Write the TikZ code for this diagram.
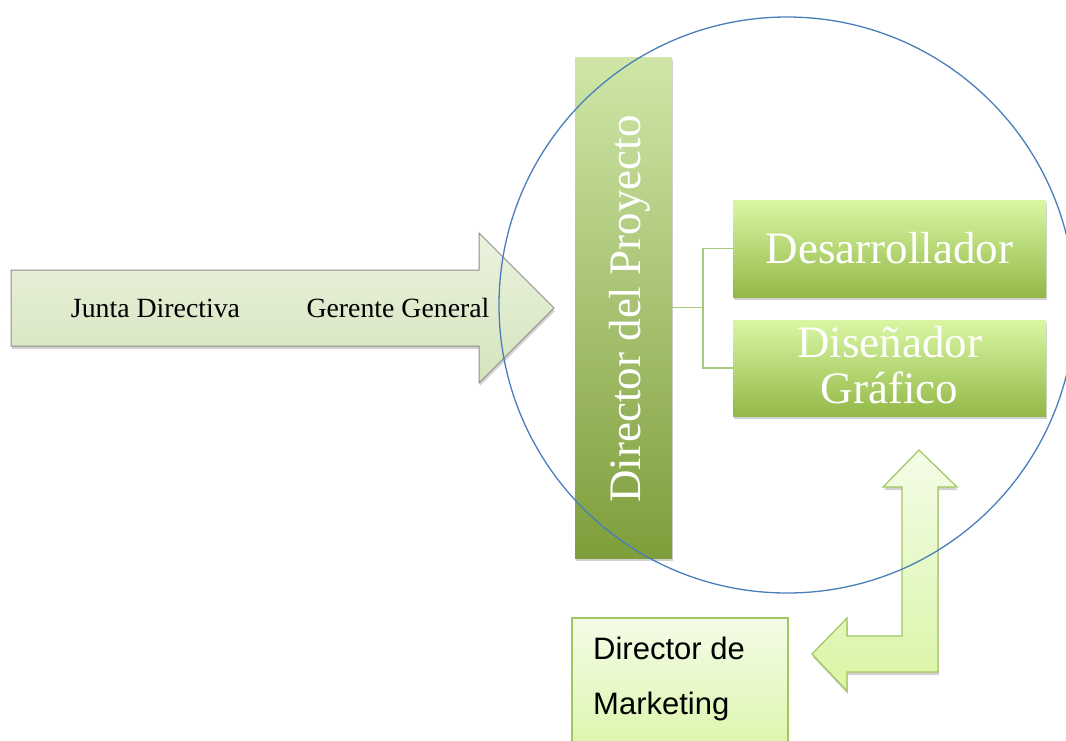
\documentclass[tikz,border=0pt]{standalone}
\usepackage{fontspec}
\setmainfont{Liberation Serif}
\newfontfamily\mysans{Liberation Sans}
\usetikzlibrary{shadows}
\definecolor{arrowtop}{HTML}{EAF2DE}
\definecolor{arrowbot}{HTML}{D5E4BD}
\definecolor{arrowline}{HTML}{8E8E8E}
\definecolor{bartop}{HTML}{CFE6A8}
\definecolor{barbot}{HTML}{7E9E3B}
\definecolor{boxtop}{HTML}{D9F7A3}
\definecolor{boxbot}{HTML}{93B848}
\definecolor{lighttop}{HTML}{F4FCE8}
\definecolor{lightbot}{HTML}{D9F5A5}
\definecolor{lightline}{HTML}{A2C660}
\definecolor{connline}{HTML}{A9C97E}
\definecolor{ringblue}{HTML}{4A7EBB}
\begin{document}
\begin{tikzpicture}[x=1pt,y=-1pt,
  softshadow/.style={drop shadow={opacity=0.18, shadow xshift=0.8pt, shadow yshift=-3pt, fill=black}},
  serifsmall/.style={inner sep=0pt, font=\fontsize{27.8}{33}\selectfont, text=black},
  bigwhite/.style={inner sep=0pt, font=\fontsize{45}{54}\selectfont, text=white},
  sanstext/.style={inner sep=0pt, font=\mysans\fontsize{31}{37}\selectfont, text=black},
  barbox/.style={rectangle, inner sep=0pt, minimum width=97pt, minimum height=501pt, top color=bartop, bottom color=barbot, draw=none, softshadow},
  greenbox/.style={rectangle, inner sep=0pt, minimum width=313pt, top color=boxtop, bottom color=boxbot, draw=none, softshadow},
  mktbox/.style={rectangle, inner sep=0pt, minimum width=216pt, minimum height=144pt, top color=lighttop, bottom color=lightbot, draw=lightline, line width=1.2pt, softshadow},
  conn/.style={draw=connline, line width=1.3pt},
  ring/.style={circle, draw=ringblue, line width=1.3pt, inner sep=0pt, minimum size=576pt}
]
\useasboundingbox (0,0) rectangle (1066,740);

% big arrow
\path[draw=arrowline, line width=1pt, top color=arrowtop, bottom color=arrowbot, softshadow]
  (11,270) -- (479,270) -- (479,233) -- (554,308) -- (479,383) -- (479,346) -- (11,346) -- cycle;
\node[serifsmall, anchor=base] (junta) at (155.5,317) {Junta Directiva};
\node[serifsmall, anchor=base] (gerente) at (398,317) {Gerente General};

% director bar
\node[barbox] (dp) at (623.5,307.5) {};
\node[bigwhite, rotate=90, anchor=base] (dptext) at (640,309) {Director del Proyecto};

% boxes
\node[greenbox, minimum height=97pt] (dev) at (889.5,248.5) {};
\node[bigwhite, anchor=base] (devtext) at (889.5,263) {Desarrollador};
\node[greenbox, minimum height=96pt] (dis) at (889.5,368) {};
\node[bigwhite, anchor=base] (distext1) at (889.5,357) {Diseñador};
\node[bigwhite, anchor=base] (distext2) at (889.5,403) {Gráfico};

% connectors
\coordinate (jn) at (703,307.5);
\draw[conn] (dp.east) -- (jn);
\draw[conn] (dev.west) -| (jn) |- (dis.west);

% bent arrow
\path[draw=lightline, line width=1.2pt, top color=lighttop, bottom color=lightbot, softshadow]
  (919,450) -- (957,487) -- (938,487) -- (938,672) -- (847,672) -- (847,691) -- (812,654)
  -- (847,618) -- (847,636) -- (902,636) -- (902,487) -- (883,487) -- cycle;

% marketing box
\node[mktbox] (mkt) at (680,690) {};
\node[sanstext, anchor=base west] (mkt1) at (593,659) {Director de};
\node[sanstext, anchor=base west] (mkt2) at (593,714) {Marketing};

% circle
\node[ring] (scope) at (787,305) {};
\end{tikzpicture}
\end{document}
